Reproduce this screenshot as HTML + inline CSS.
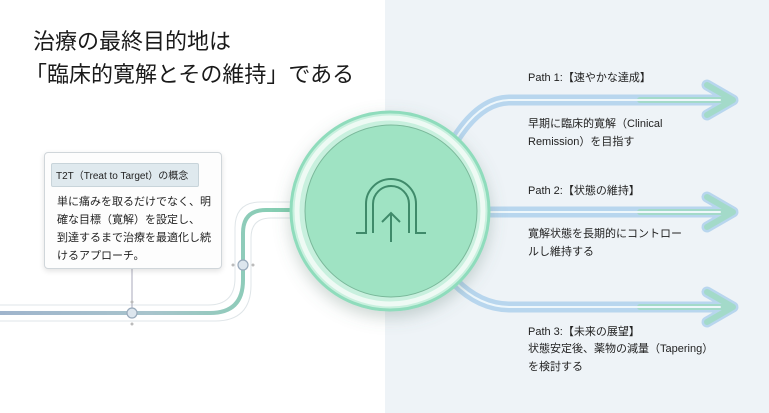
<!DOCTYPE html>
<html><head><meta charset="utf-8"><style>
body{margin:0;width:769px;height:413px;overflow:hidden;font-family:"Liberation Sans","Noto Sans CJK JP",sans-serif;background:#fff;position:relative}
.t{position:absolute;color:#222;white-space:nowrap}
</style></head><body>
<div style="position:absolute;left:385px;top:0;width:384px;height:413px;background:#eef3f7"></div>
<svg width="769" height="413" style="position:absolute;left:0;top:0">
<defs>
<linearGradient id="lg" x1="0" x2="1"><stop offset="0" stop-color="#9fb4cc"/><stop offset="0.5" stop-color="#a8c4cc"/><stop offset="1" stop-color="#7fd0ae"/></linearGradient>
<filter id="sh" x="-30%" y="-30%" width="160%" height="160%"><feDropShadow dx="0" dy="6" stdDeviation="8" flood-color="#5a7a70" flood-opacity="0.3"/></filter>
</defs>
<g fill="none" stroke="#dfe5e8" stroke-width="1">
<path d="M0 305 H208 Q235 305 235 278 V228 Q235 202 261 202 H300"/>
<path d="M0 321 H215 Q251 321 251 285 V238 Q251 218 271 218 H300"/>
</g>
<path d="M0 313 H210 Q243 313 243 280 V233 Q243 210 266 210 H300" fill="none" stroke="url(#lg)" stroke-width="4"/>
<line x1="132" y1="268" x2="132" y2="313" stroke="#aab" stroke-width="1"/>
<circle cx="132" cy="313" r="5" fill="#dde6ee" stroke="#9ab" stroke-width="1.2"/>
<circle cx="132" cy="302" r="1.5" fill="#bbb"/><circle cx="132" cy="324" r="1.5" fill="#bbb"/>
<circle cx="243" cy="265" r="5" fill="#dde6ee" stroke="#9ab" stroke-width="1.2"/>
<circle cx="233" cy="265" r="1.5" fill="#bbb"/><circle cx="253" cy="265" r="1.5" fill="#bbb"/>
<g fill="none" stroke-linecap="round" stroke-linejoin="round">
<g stroke="#b8d6ee" stroke-width="11">
<path d="M455 140 Q480 100 510 100 H725"/>
<path d="M480 212 H725"/>
<path d="M455 282 Q480 307 510 307 H725"/>
<path d="M707 85 L733 100 L707 115"/><path d="M707 197 L733 212 L707 227"/><path d="M707 292 L733 307 L707 322"/>
</g>
<g stroke="#9fdcc0" stroke-width="6" opacity="0.8">
<path d="M640 100 H725"/><path d="M640 212 H725"/><path d="M640 307 H725"/>
<path d="M707 85 L733 100 L707 115"/><path d="M707 197 L733 212 L707 227"/><path d="M707 292 L733 307 L707 322"/>
</g>
<g stroke="#eef7fb" stroke-width="2">
<path d="M455 140 Q480 100 510 100 H720"/><path d="M480 212 H720"/><path d="M455 282 Q480 307 510 307 H720"/>
</g>
</g>
<circle cx="390" cy="211" r="99" fill="#c8f0de" stroke="#8fdcbc" stroke-width="3" filter="url(#sh)"/>
<circle cx="390" cy="211" r="93" fill="none" stroke="#eefaf4" stroke-width="5"/>
<circle cx="391" cy="211" r="86" fill="#9fe3c3" stroke="#7ab89a" stroke-width="1"/>
<g fill="none" stroke="#3f8a6a" stroke-width="2">
<path d="M356 233 H366 V204 A25 25 0 0 1 416 204 V233 H426"/>
<path d="M373 233 V204 A18 18 0 0 1 409 204 V233"/>
<path d="M391 242 V214 M382 222 L391 213 L400 222"/>
</g>
</svg>
<div class="t" style="left:33px;top:24px;font-size:22px;color:#1a1a1a">治療の最終目的地は</div>
<div class="t" style="left:25px;top:57px;font-size:22px;color:#1a1a1a">「臨床的寛解とその維持」である</div>
<div style="position:absolute;left:44px;top:152px;width:176px;height:115px;background:#fdfdfd;border:1px solid #d0d6da;border-radius:4px;box-shadow:0 2px 6px rgba(0,0,0,0.12)"></div>
<div style="position:absolute;left:51px;top:163px;width:146px;height:22px;background:#dfe9ee;border:1px solid #c8d4da;border-radius:2px"></div>
<div class="t" style="left:56px;top:167px;font-size:10px">T2T（Treat to Target）の概念</div>
<div class="t" style="left:57px;top:193px;font-size:11px;line-height:18px">単に痛みを取るだけでなく、明<br>確な目標（寛解）を設定し、<br>到達するまで治療を最適化し続<br>けるアプローチ。</div>
<div class="t" style="left:528px;top:69px;font-size:11px">Path 1:【速やかな達成】</div>
<div class="t" style="left:528px;top:115px;font-size:11px;line-height:18px">早期に臨床的寛解（Clinical<br>Remission）を目指す</div>
<div class="t" style="left:528px;top:182px;font-size:11px">Path 2:【状態の維持】</div>
<div class="t" style="left:528px;top:225px;font-size:11px;line-height:18px">寛解状態を長期的にコントロー<br>ルし維持する</div>
<div class="t" style="left:528px;top:323px;font-size:11px">Path 3:【未来の展望】</div>
<div class="t" style="left:528px;top:340px;font-size:11px;line-height:18px">状態安定後、薬物の減量（Tapering）<br>を検討する</div>
</body></html>
